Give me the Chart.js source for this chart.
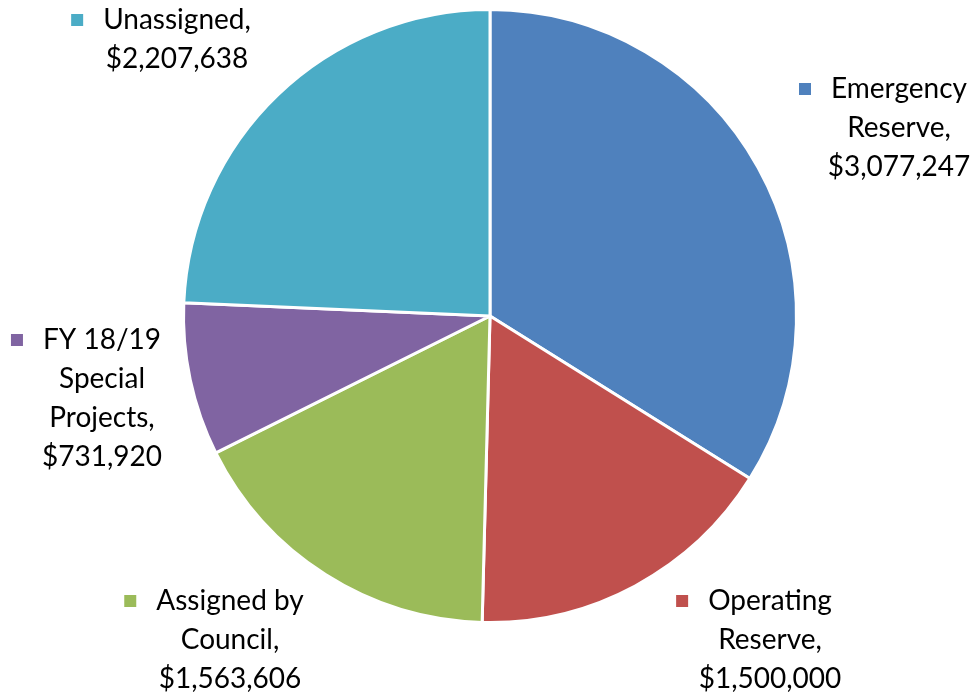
<!DOCTYPE html>
<html>
<head>
<meta charset="utf-8">
<script src="https://cdn.jsdelivr.net/npm/chart.js@4.4.0/dist/chart.umd.min.js"></script>
<style>
  html, body { margin: 0; padding: 0; background: #fff; }
  #wrap { width: 976px; height: 693px; position: relative; }
</style>
</head>
<body>
<div id="wrap"><canvas id="fundChart"></canvas></div>
<script>
// Fund balance breakdown
const categories = ['Emergency Reserve', 'Operating Reserve', 'Assigned by Council', 'FY 18/19 Special Projects', 'Unassigned'];
const amounts = [3077247, 1500000, 1563606, 731920, 2207638];
const colors = ['#4F81BD', '#C0504D', '#9BBB59', '#8064A2', '#4BACC6'];

// how each label is broken into lines
const labelLines = [
    ['Emergency', 'Reserve,'],
    ['Operating', 'Reserve,'],
    ['Assigned by', 'Council,'],
    ['FY 18/19', 'Special', 'Projects,'],
    ['Unassigned,']
];

// label block centres (x, y of first line)
const labelAnchors = [
    [899, 89],
    [770, 601],
    [230, 601],
    [102, 340],
    [177, 20]
];

function formatMoney(v) {
    return '$' + v.toLocaleString('en-US');
}

const outsideLabels = {
    id: 'outsideLabels',
    afterDatasetsDraw(chart) {
        const ctx = chart.ctx;
        const lineH = 39;
        ctx.save();
        ctx.font = '28px Lato, "Open Sans", sans-serif';
        ctx.textAlign = 'center';
        ctx.textBaseline = 'middle';
        categories.forEach((c, i) => {
            const lines = labelLines[i].concat([formatMoney(amounts[i])]);
            const [cx, cy] = labelAnchors[i];
            lines.forEach((t, j) => {
                ctx.fillStyle = '#000';
                ctx.fillText(t, cx, cy + j * lineH);
            });
            // colour key before the first line
            const w = ctx.measureText(lines[0]).width;
            ctx.fillStyle = colors[i];
            ctx.fillRect(cx - w / 2 - 32, cy - 6, 12, 12);
        });
        ctx.restore();
    }
};

const ctx = document.getElementById('fundChart').getContext('2d');
const fundChart = new Chart(ctx, {
    type: 'pie',
    data: {
        labels: categories,
        datasets: [{
            data: amounts,
            backgroundColor: colors,
            borderColor: '#ffffff',
            borderWidth: 3
        }]
    },
    options: {
        responsive: true,
        maintainAspectRatio: false,
        animation: false,
        layout: {
            padding: { top: 8, bottom: 69, left: 8, right: 4 }
        },
        plugins: {
            legend: { display: false },
            tooltip: { enabled: false }
        }
    },
    plugins: [outsideLabels]
});
</script>
</body>
</html>
